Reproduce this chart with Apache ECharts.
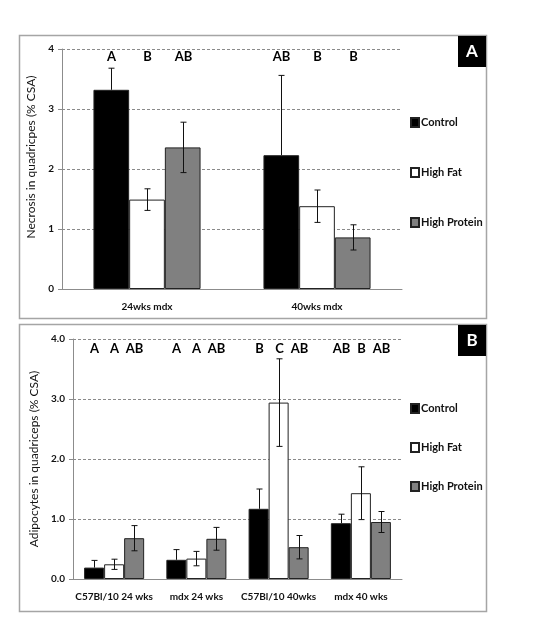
<!DOCTYPE html>
<html><head><meta charset="utf-8">
<script src="https://cdn.jsdelivr.net/npm/echarts@6/dist/echarts.min.js"></script>
<style>html,body{margin:0;padding:0;background:#fff}#c{width:536px;height:640px}</style>
</head><body><div id="c"></div>
<script>
const seriesNames = ['Control', 'High Fat', 'High Protein'];
const colors = ['#000000', '#ffffff', '#808080'];

// Panel A
const catsA = ['24wks mdx', '40wks mdx'];
const controlA = [3.32, 2.23];
const highFatA = [1.49, 1.38];
const highProteinA = [2.36, 0.86];
const controlErrA = [0.36, 1.33];
const highFatErrA = [0.18, 0.27];
const highProteinErrA = [0.42, 0.21];
const lettersA = [['A', 'B', 'AB'], ['AB', 'B', 'B']];
const yTicksA = [0, 1, 2, 3, 4];

// Panel B
const catsB = ['C57Bl/10 24 wks', 'mdx 24 wks', 'C57Bl/10 40wks', 'mdx 40 wks'];
const controlB = [0.19, 0.32, 1.17, 0.93];
const highFatB = [0.245, 0.34, 2.94, 1.43];
const highProteinB = [0.68, 0.67, 0.53, 0.95];
const controlErrB = [0.12, 0.17, 0.33, 0.15];
const highFatErrB = [0.085, 0.12, 0.73, 0.44];
const highProteinErrB = [0.21, 0.19, 0.195, 0.175];
const lettersB = [['A', 'A', 'AB'], ['A', 'A', 'AB'], ['B', 'C', 'AB'], ['AB', 'B', 'AB']];
const yTicksB = [0, 1, 2, 3, 4];

const FONT = 'Lato';
const gapA = 0.37, gapB = 0.27;

function errData(vals, errs, letters) {
  const out = [];
  for (let s = 0; s < 3; s++) {
    for (let c = 0; c < vals[s].length; c++) {
      out.push({ value: [c, s, vals[s][c], errs[s][c]], letter: letters[c][s] });
    }
  }
  return out;
}
function makeRender(gap, letterOffset, data, letterSize) {
  return function (params, api) {
    const ci = api.value(0), si = api.value(1), v = api.value(2), e = api.value(3);
    const band = api.size([1, 0])[0];
    const bw = band * (1 - gap) / 3;
    const x = Math.round(api.coord([ci, 0])[0] + (si - 1) * bw) + 0.5;
    const yt = api.coord([ci, v + e])[1];
    const ym = api.coord([ci, v])[1];
    const yb = api.coord([ci, v - e])[1];
    const yTop = api.coord([ci, 4])[1];
    const cap = 3;
    const st = { stroke: '#111', lineWidth: 1 };
    const ch = [
      { type: 'line', shape: { x1: x, y1: yt, x2: x, y2: si === 0 ? ym : yb }, style: st },
      { type: 'line', shape: { x1: x - cap, y1: yt, x2: x + cap, y2: yt }, style: st },
      { type: 'text', x: x, y: yTop + letterOffset, style: { text: data[params.dataIndex].letter, fill: '#000', font: 'bold ' + letterSize + 'px ' + FONT, align: 'center', verticalAlign: 'middle' } }
    ];
    if (si !== 0) ch.push({ type: 'line', shape: { x1: x - cap, y1: yb, x2: x + cap, y2: yb }, style: st });
    return { type: 'group', children: ch };
  };
}
const errA = errData([controlA, highFatA, highProteinA], [controlErrA, highFatErrA, highProteinErrA], lettersA);
const errB = errData([controlB, highFatB, highProteinB], [controlErrB, highFatErrB, highProteinErrB], lettersB);

const axisLabelStyle = { color: '#111', fontFamily: FONT, fontWeight: 'bold', fontSize: 10 };
function yAxis(gi, ticks, fmt, name, gap, pad) {
  return {
    type: 'value', gridIndex: gi, min: ticks[0], max: ticks[ticks.length - 1], interval: 1,
    axisLine: { show: true, lineStyle: { color: '#8c8c8c' } },
    axisTick: { show: true, length: 4, lineStyle: { color: '#8c8c8c' } },
    axisLabel: Object.assign({ formatter: fmt, margin: 8 }, axisLabelStyle),
    splitLine: { show: true, lineStyle: { color: '#8a8a8a', type: [3, 2], width: 1 } },
    name: name, nameLocation: 'middle', nameGap: gap, nameRotate: 90,
    nameTextStyle: { color: '#111', fontFamily: FONT, fontSize: 12, padding: pad }
  };
}
function xAxis(gi, cats) {
  return {
    type: 'category', gridIndex: gi, data: cats,
    axisLine: { show: true, lineStyle: { color: '#8c8c8c' } },
    axisTick: { show: false },
    axisLabel: Object.assign({ margin: 13, interval: 0 }, axisLabelStyle)
  };
}
function bar(name, idx, data, xi, gap) {
  return {
    name: name, type: 'bar', xAxisIndex: xi, yAxisIndex: xi, data: data,
    barGap: '0%', barCategoryGap: (gap * 100) + '%',
    itemStyle: { color: colors[idx], borderColor: '#222', borderWidth: 1 },
    emphasis: { disabled: true }, z: 2
  };
}
function legend(top, gap) {
  return {
    data: seriesNames, orient: 'vertical', left: 405, top: top, itemGap: gap,
    itemWidth: 8, itemHeight: 9, icon: 'rect', selectedMode: false,
    textStyle: { color: '#111', fontFamily: FONT, fontWeight: 'bold', fontSize: 11, padding: [0, 0, 0, -3] }
  };
}
function tag(x, y, t) {
  return [
    { type: 'rect', left: x, top: y, shape: { width: 28, height: 31 }, style: { fill: '#000' } },
    { type: 'text', x: x + 14, y: y + 16, style: { text: t, fill: '#fff', font: 'bold 17px ' + FONT, align: 'center', verticalAlign: 'middle' } }
  ];
}

const option = {
  animation: false,
  backgroundColor: '#fff',
  grid: [
    { left: 62, top: 49, width: 340, height: 240 },
    { left: 73, top: 339, width: 329, height: 240 }
  ],
  xAxis: [xAxis(0, catsA), xAxis(1, catsB)],
  yAxis: [
    yAxis(0, yTicksA, v => String(v), 'Necrosis in quadricpes (% CSA)', 22, [0, 0, 0, 24]),
    yAxis(1, yTicksB, v => v.toFixed(1), 'Adipocytes in quadriceps (% CSA)', 33, [0, 0, 0, 0])
  ],
  legend: [legend(112, 39), legend(398, 28)],
  graphic: [
    { type: 'rect', shape: { x: 19.5, y: 35.5, width: 467, height: 283 }, style: { fill: 'none', stroke: '#a5a5a5', lineWidth: 1.5 } },
    { type: 'rect', shape: { x: 19.5, y: 324.5, width: 467, height: 287 }, style: { fill: 'none', stroke: '#a5a5a5', lineWidth: 1.5 } }
  ].concat(tag(458, 36, 'A'), tag(458, 325, 'B')),
  series: [
    bar('Control', 0, controlA, 0, gapA),
    bar('High Fat', 1, highFatA, 0, gapA),
    bar('High Protein', 2, highProteinA, 0, gapA),
    bar('Control', 0, controlB, 1, gapB),
    bar('High Fat', 1, highFatB, 1, gapB),
    bar('High Protein', 2, highProteinB, 1, gapB),
    { type: 'custom', xAxisIndex: 0, yAxisIndex: 0, data: errA, renderItem: makeRender(gapA, 8, errA, 13), z: 5, silent: true },
    { type: 'custom', xAxisIndex: 1, yAxisIndex: 1, data: errB, renderItem: makeRender(gapB, 10, errB, 13), z: 5, silent: true }
  ]
};
const chart = echarts.init(document.getElementById('c'), null, { renderer: 'canvas' });
chart.setOption(option);
</script></body></html>
